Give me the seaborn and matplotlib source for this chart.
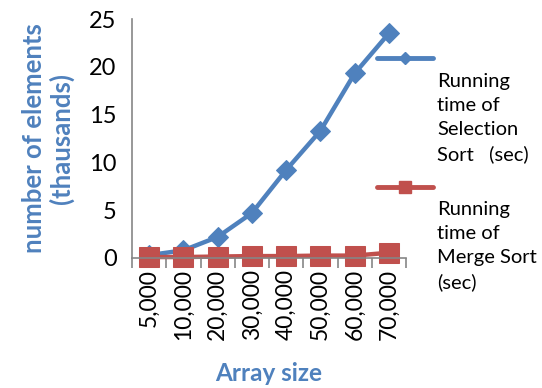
import matplotlib
matplotlib.use("Agg")
import matplotlib.pyplot as plt
from matplotlib.lines import Line2D
from matplotlib.ticker import FixedLocator
import seaborn as sns
import pandas as pd

# Benchmark data
array_sizes = ["5,000", "10,000", "20,000", "30,000", "40,000", "50,000", "60,000", "70,000"]
selection_sort = [0.3, 0.8, 2.2, 4.7, 9.2, 13.3, 19.3, 23.5]
merge_sort = [0.1, 0.1, 0.15, 0.2, 0.2, 0.25, 0.25, 0.55]
series_names = ["Running\ntime of\nSelection\nSort   (sec)", "Running\ntime of\nMerge Sort\n(sec)"]
y_ticks = [0, 5, 10, 15, 20, 25]

BLUE = "#4F81BD"
RED = "#C0504D"
GRAY = "#868686"

sns.set_theme(style="white")
plt.rcParams["font.family"] = ["Lato", "DejaVu Sans"]

df = pd.DataFrame({
    "size": array_sizes * 2,
    "time": selection_sort + merge_sort,
    "series": [series_names[0]] * len(array_sizes) + [series_names[1]] * len(array_sizes),
})

fig = plt.figure(figsize=(5.42, 3.88), dpi=100)
ax = fig.add_axes([132 / 542, 1 - 258 / 388, (406 - 132) / 542, (258 - 19) / 388])

sns.lineplot(data=df[df["series"] == series_names[0]], x="size", y="time",
             color=BLUE, marker="D", markersize=10, linewidth=3.2,
             markeredgecolor=BLUE, ax=ax, legend=False, sort=False)
sns.lineplot(data=df[df["series"] == series_names[1]], x="size", y="time",
             color=RED, marker="s", markersize=14, linewidth=3.2,
             markeredgecolor=RED, ax=ax, legend=False, sort=False)

ax.set_xlim(-0.5, len(array_sizes) - 0.5)
ax.set_ylim(0, 25)
ax.set_yticks(y_ticks)
ax.set_xticks(range(len(array_sizes)))
ax.set_xticklabels(array_sizes, rotation=90, fontsize=16.5)
ax.xaxis.set_minor_locator(FixedLocator([i - 0.5 for i in range(len(array_sizes) + 1)]))
ax.tick_params(axis="x", which="major", length=0, pad=8, labelcolor="black")
ax.tick_params(axis="x", which="minor", length=7, width=1.2, color=GRAY, direction="out")
ax.tick_params(axis="y", which="major", length=8, width=1.2, color=GRAY, direction="out",
               labelsize=17, pad=3, labelcolor="black")
ax.tick_params(axis="x", which="minor", bottom=True)

for side in ["top", "right"]:
    ax.spines[side].set_visible(False)
for side in ["left", "bottom"]:
    ax.spines[side].set_color(GRAY)
    ax.spines[side].set_linewidth(1.2)
for ln in ax.lines:
    ln.set_clip_on(False)

ax.set_xlabel("Array size", fontsize=17.5, fontweight="bold", color=BLUE, labelpad=16)
ax.set_ylabel("number of elements\n(thausands)", fontsize=18.5, fontweight="bold",
              color=BLUE, labelpad=11, linespacing=1.1)

# Legend drawn to the right of the plot area
W, H = 542, 388
legend_items = [
    (series_names[0], BLUE, "D", 6, 58, 85),
    (series_names[1], RED, "s", 9, 187, 213),
]
for label, color, marker, msize, y_line, y_text in legend_items:
    fig.add_artist(Line2D([377 / W, 433 / W], [1 - y_line / H, 1 - y_line / H],
                          color=color, linewidth=3.5, solid_capstyle="round"))
    fig.add_artist(Line2D([405 / W], [1 - y_line / H], marker=marker, markersize=msize,
                          color=color, linestyle="none"))
    fig.text(437 / W, 1 - (y_text - 12) / H, label, fontsize=14.5, va="top", ha="left",
             linespacing=1.5, color="black")

fig.savefig("out.png", dpi=100)
